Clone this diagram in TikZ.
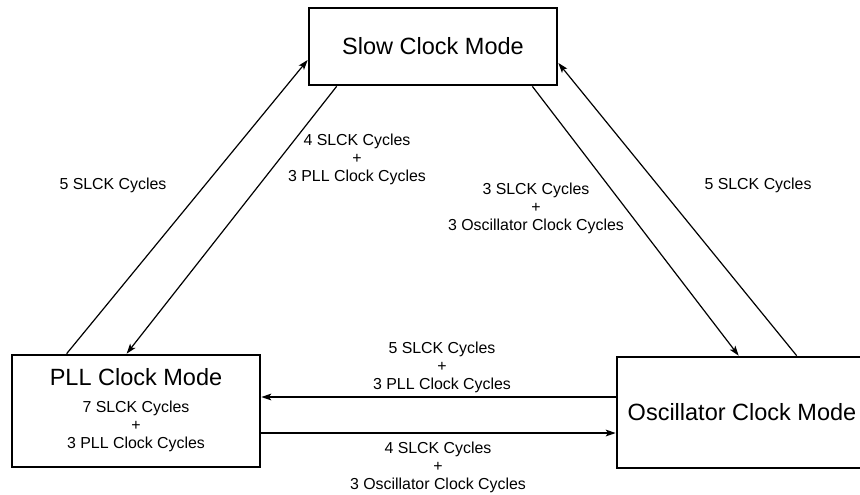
\documentclass[tikz,border=0pt]{standalone}
\usepackage{fontspec}
\setmainfont{Liberation Sans}
\usetikzlibrary{arrows.meta}

\tikzset{
  modebox/.style={draw,line width=1.35pt,minimum width=124pt,inner sep=0pt},
  modefont/.style={font=\fontsize{11.75}{14}\selectfont},
  cyclabel/.style={align=center,inner sep=0pt,font=\fontsize{7.95}{9}\selectfont},
  flow/.style={line width=0.6pt,-{Stealth[length=5pt,width=3.4pt,inset=1.2pt]}}
}

\begin{document}
\begin{tikzpicture}[x=0.5pt,y=-0.5pt]
 \useasboundingbox (0,0) rectangle (860,494);
 % the three modes
 \node[modebox,modefont,minimum height=38.5pt] (slow) at (433,46.5) {Slow Clock Mode};
 \node[modebox,minimum height=56pt] (pll) at (136,411) {};
 \node[modebox,minimum width=122.5pt,minimum height=55.5pt] (osc) at (739.5,412.5) {};
 \node[modefont] (plltitle) at (136,377) {PLL Clock Mode};
 \node[cyclabel] (pllcyc) at (136,426) {7 SLCK Cycles\\+\\3 PLL Clock Cycles};
 \node[modefont] (osctitle) at (742,412) {Oscillator Clock Mode};

 % transitions
 \draw[flow] ([xshift=28pt]pll.north west) -- ([yshift=-6.75pt]slow.west);
 \draw[flow] ([xshift=14.5pt]slow.south west) -- ([xshift=58pt]pll.north west);
 \draw[flow] ([xshift=-13pt]slow.south east) -- ([xshift=61.5pt]osc.north west);
 \draw[flow] ([xshift=90.5pt]osc.north west) -- ([yshift=-8.25pt]slow.east);
 \draw[flow] ([yshift=7.75pt]osc.west) -- ([yshift=7.75pt]osc.west -| pll.east);
 \draw[flow] ([yshift=-11pt]pll.east) -- ([yshift=-11pt]pll.east -| osc.west);

 % cycle counts
 \node[cyclabel] (pllup) at (113,185) {5 SLCK Cycles};
 \node[cyclabel] (slowpll) at (357,159) {4 SLCK Cycles\\+\\3 PLL Clock Cycles};
 \node[cyclabel] (slowosc) at (536,208) {3 SLCK Cycles\\+\\3 Oscillator Clock Cycles};
 \node[cyclabel] (oscup) at (758,185) {5 SLCK Cycles};
 \node[cyclabel] (oscpll) at (442,367) {5 SLCK Cycles\\+\\3 PLL Clock Cycles};
 \node[cyclabel] (pllosc) at (438,467) {4 SLCK Cycles\\+\\3 Oscillator Clock Cycles};
\end{tikzpicture}
\end{document}
